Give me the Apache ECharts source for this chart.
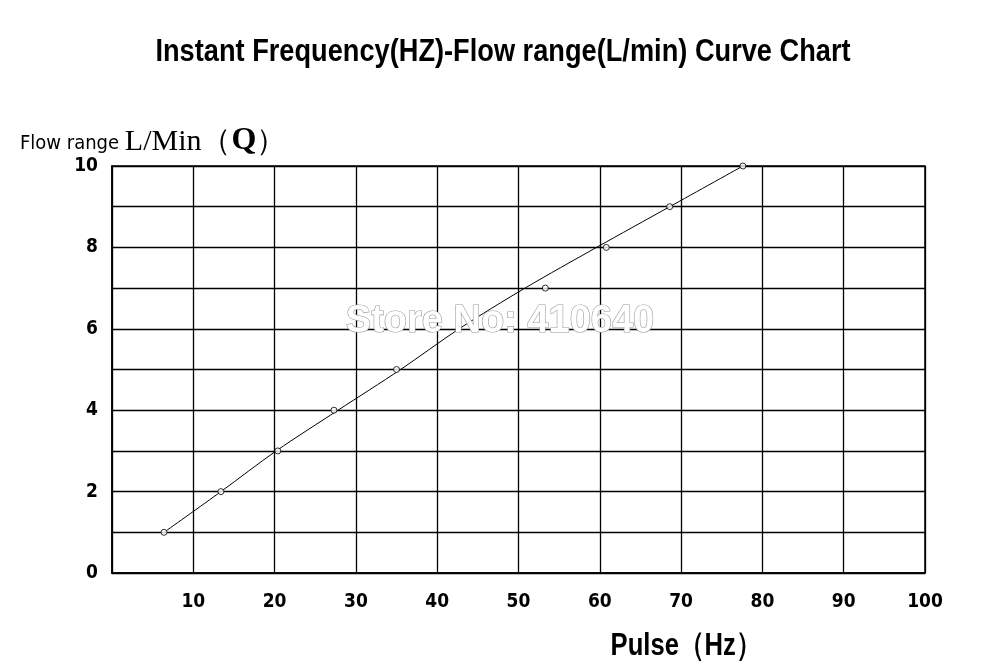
<!DOCTYPE html>
<html>
<head>
<meta charset="utf-8">
<script src="https://cdn.jsdelivr.net/npm/echarts@6/dist/echarts.min.js"></script>
<style>html,body{margin:0;padding:0;background:#fff}#c{width:1000px;height:672px}</style>
</head>
<body>
<div id="c"></div>
<script>
// Fitted curve (Pulse Hz, Flow L/min)
const curvePulse = [6.4, 13.4, 20.2, 27.8, 35.5, 42.7, 50.8, 59.6, 68.6, 77.6];
const curveFlow  = [1, 2, 3, 4, 5, 6, 7, 8, 9, 10];
// Measured points
const pointPulse = [6.4, 13.4, 20.4, 27.3, 35.0, 53.3, 60.8, 68.6, 77.6];
const pointFlow  = [1, 2, 3, 4, 5, 7, 8, 9, 10];
const xTicks = [0, 10, 20, 30, 40, 50, 60, 70, 80, 90, 100];
const yTicks = [0, 2, 4, 6, 8, 10];

const cond = "'DejaVu Sans Condensed', sans-serif";
const chart = echarts.init(document.getElementById('c'), null, {renderer: 'canvas'});
chart.setOption({
  backgroundColor: '#fff',
  animation: false,
  grid: {left: 112, right: 75, top: 166, bottom: 99, show: true, borderColor: '#000', borderWidth: 1.5},
  xAxis: {
    type: 'value', min: 0, max: 100, interval: 10,
    axisLine: {show: true, lineStyle: {color: '#000', width: 1.5}},
    axisTick: {show: false},
    splitLine: {show: true, lineStyle: {color: '#000', width: 1.3}},
    axisLabel: {
      margin: 20, color: '#000', fontFamily: cond, fontWeight: 'bold', fontSize: 19,
      formatter: v => (xTicks.indexOf(v) > 0 ? String(v) : '')
    }
  },
  yAxis: {
    type: 'value', min: 0, max: 10, interval: 1,
    axisLine: {show: true, lineStyle: {color: '#000', width: 1.5}},
    axisTick: {show: false},
    splitLine: {show: true, lineStyle: {color: '#000', width: 1.3}},
    axisLabel: {
      margin: 14, color: '#000', fontFamily: cond, fontWeight: 'bold', fontSize: 19,
      padding: [4, 0, 0, 0],
      formatter: v => (yTicks.indexOf(v) >= 0 ? String(v) : '')
    }
  },
  series: [
    {
      type: 'line', smooth: 0.3, symbol: 'none',
      data: curvePulse.map((x, i) => [x, curveFlow[i]]),
      lineStyle: {color: '#000', width: 1}, z: 3
    },
    {
      type: 'scatter', symbol: 'circle', symbolSize: 6,
      data: pointPulse.map((x, i) => [x, pointFlow[i]]),
      itemStyle: {color: '#fff', borderColor: '#000', borderWidth: 1}, z: 4
    }
  ],
  graphic: [
    {
      type: 'text', x: 503, y: 52, scaleX: 0.85, z: 10,
      style: {
        text: 'Instant Frequency(HZ)-Flow range(L/min) Curve Chart',
        align: 'center', verticalAlign: 'middle',
        font: "bold 32px 'Liberation Sans', Arial, sans-serif", fill: '#000'
      }
    },
    {
      type: 'text', x: 20, y: 157, z: 10,
      style: {
        text: '{a|Flow range }{b|L/Min（}{q|Q}{b|）}',
        verticalAlign: 'bottom',
        rich: {
          a: {fontFamily: cond, fontSize: 20, fill: '#000', verticalAlign: 'bottom', padding: [0, 0, 3, 0]},
          b: {fontFamily: "'Liberation Serif', serif", fontSize: 30, fill: '#000', verticalAlign: 'bottom'},
          q: {fontFamily: "'Liberation Serif', serif", fontSize: 32, fontWeight: 'bold', fill: '#000', verticalAlign: 'bottom'}
        }
      }
    },
    {
      type: 'text', x: 686, y: 646, scaleX: 0.8, z: 10,
      style: {text: 'Pulse（Hz）', align: 'center', verticalAlign: 'middle',
        font: "bold 32px 'Liberation Sans', Arial, sans-serif", fill: '#000'}
    },
    {
      type: 'text', x: 500, y: 322, z: 20,
      style: {
        text: 'Store No: 410640', align: 'center', verticalAlign: 'middle',
        font: "bold 38px 'Liberation Sans', Arial, sans-serif",
        fill: '#fff', stroke: '#9a9a9a', lineWidth: 1.2
      }
    }
  ]
});
</script>
</body>
</html>
